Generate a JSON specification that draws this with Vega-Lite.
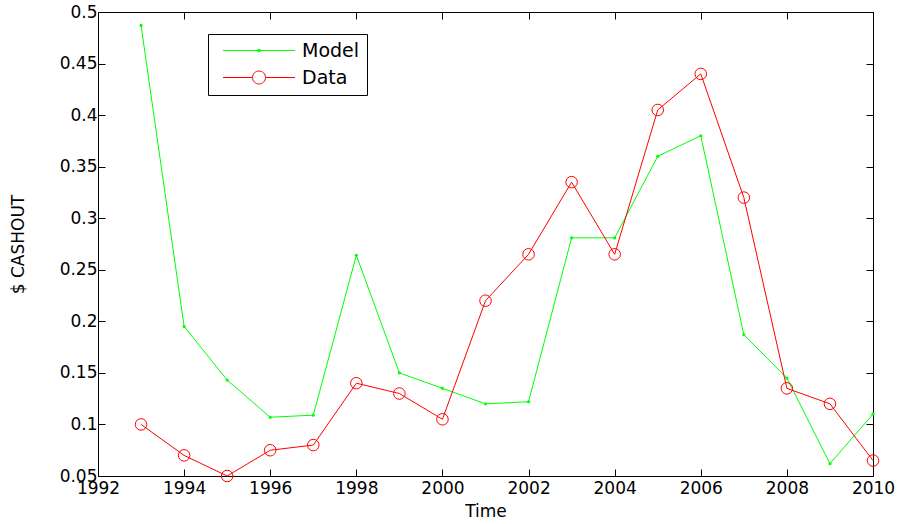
{
  "$schema": "https://vega.github.io/schema/vega-lite/v6.json",
  "width": 775,
  "height": 464,
  "autosize": "none",
  "padding": {"left": 98, "top": 12, "right": 30, "bottom": 48},
  "background": "white",
  "config": {
    "view": {"stroke": null},
    "font": "DejaVu Sans",
    "axis": {
      "domainColor": "black",
      "domainWidth": 1,
      "tickColor": "black",
      "tickWidth": 1,
      "tickSize": -7,
      "grid": false,
      "labelFlush": false,
      "labelOverlap": false,
      "labelFont": "DejaVu Sans",
      "labelFontSize": 17,
      "labelColor": "black",
      "titleFont": "DejaVu Sans",
      "titleFontSize": 17,
      "titleFontWeight": "normal",
      "titleColor": "black"
    }
  },
  "data": {
    "values": [
      {"year": 1993, "series": "Model", "value": 0.487},
      {"year": 1994, "series": "Model", "value": 0.195},
      {"year": 1995, "series": "Model", "value": 0.143},
      {"year": 1996, "series": "Model", "value": 0.107},
      {"year": 1997, "series": "Model", "value": 0.109},
      {"year": 1998, "series": "Model", "value": 0.264},
      {"year": 1999, "series": "Model", "value": 0.150},
      {"year": 2000, "series": "Model", "value": 0.135},
      {"year": 2001, "series": "Model", "value": 0.120},
      {"year": 2002, "series": "Model", "value": 0.122},
      {"year": 2003, "series": "Model", "value": 0.281},
      {"year": 2004, "series": "Model", "value": 0.281},
      {"year": 2005, "series": "Model", "value": 0.360},
      {"year": 2006, "series": "Model", "value": 0.380},
      {"year": 2007, "series": "Model", "value": 0.187},
      {"year": 2008, "series": "Model", "value": 0.145},
      {"year": 2009, "series": "Model", "value": 0.062},
      {"year": 2010, "series": "Model", "value": 0.110},
      {"year": 1993, "series": "Data", "value": 0.100},
      {"year": 1994, "series": "Data", "value": 0.070},
      {"year": 1995, "series": "Data", "value": 0.050},
      {"year": 1996, "series": "Data", "value": 0.075},
      {"year": 1997, "series": "Data", "value": 0.080},
      {"year": 1998, "series": "Data", "value": 0.140},
      {"year": 1999, "series": "Data", "value": 0.130},
      {"year": 2000, "series": "Data", "value": 0.105},
      {"year": 2001, "series": "Data", "value": 0.220},
      {"year": 2002, "series": "Data", "value": 0.265},
      {"year": 2003, "series": "Data", "value": 0.335},
      {"year": 2004, "series": "Data", "value": 0.265},
      {"year": 2005, "series": "Data", "value": 0.405},
      {"year": 2006, "series": "Data", "value": 0.440},
      {"year": 2007, "series": "Data", "value": 0.320},
      {"year": 2008, "series": "Data", "value": 0.135},
      {"year": 2009, "series": "Data", "value": 0.120},
      {"year": 2010, "series": "Data", "value": 0.065}
    ]
  },
  "resolve": {"axis": {"x": "independent", "y": "independent"}},
  "layer": [
    {
      "transform": [{"filter": "datum.series === 'Model'"}],
      "mark": {"type": "line", "color": "#00ff00", "strokeWidth": 1},
      "encoding": {
        "x": {"field": "year", "type": "quantitative", "scale": {"domain": [1992, 2010], "nice": false, "zero": false},
          "axis": {"orient": "bottom", "title": "Time", "values": [1992,1994,1996,1998,2000,2002,2004,2006,2008,2010], "format": "d", "labelPadding": 11, "titlePadding": 7}},
        "y": {"field": "value", "type": "quantitative", "scale": {"domain": [0.05, 0.5], "nice": false, "zero": false},
          "axis": {"orient": "left", "title": "$ CASHOUT", "values": [0.05,0.1,0.15,0.2,0.25,0.3,0.35,0.4,0.45,0.5], "format": ".2~f", "labelPadding": 8, "titlePadding": 32}}
      }
    },
    {
      "transform": [{"filter": "datum.series === 'Model'"}],
      "mark": {"type": "point", "shape": "circle", "filled": true, "color": "#00ff00", "size": 10, "opacity": 1},
      "encoding": {
        "x": {"field": "year", "type": "quantitative", "axis": null},
        "y": {"field": "value", "type": "quantitative", "axis": null}
      }
    },
    {
      "transform": [{"filter": "datum.series === 'Data'"}],
      "mark": {"type": "line", "color": "#ff0000", "strokeWidth": 1},
      "encoding": {
        "x": {"field": "year", "type": "quantitative", "axis": null},
        "y": {"field": "value", "type": "quantitative", "axis": null}
      }
    },
    {
      "transform": [{"filter": "datum.series === 'Data'"}],
      "mark": {"type": "point", "shape": "circle", "filled": false, "color": "#ff0000", "strokeWidth": 1, "size": 133, "opacity": 1},
      "encoding": {
        "x": {"field": "year", "type": "quantitative", "axis": null},
        "y": {"field": "value", "type": "quantitative", "axis": null}
      }
    },
    {
      "transform": [{"filter": "datum.year < 0"}],
      "mark": {"type": "point", "filled": false, "strokeWidth": 1, "opacity": 1},
      "encoding": {
        "x": {"field": "year", "type": "quantitative",
          "axis": {"orient": "top", "title": null, "labels": false, "values": [1992,1994,1996,1998,2000,2002,2004,2006,2008,2010]}},
        "y": {"field": "value", "type": "quantitative",
          "axis": {"orient": "right", "title": null, "labels": false, "values": [0.05,0.1,0.15,0.2,0.25,0.3,0.35,0.4,0.45,0.5]}},
        "color": {"field": "series", "type": "nominal",
          "scale": {"domain": ["Model", "Data"], "range": ["#00ff00", "#ff0000"]},
          "legend": {
            "orient": "none", "legendX": 110, "legendY": 22, "title": null,
            "padding": 7, "strokeColor": "black", "fillColor": "white",
            "symbolSize": 256, "symbolStrokeWidth": 1, "symbolOffset": 34.5,
            "labelOffset": 33.5, "labelFontSize": 19, "labelFont": "DejaVu Sans", "labelColor": "black",
            "rowPadding": 7
          }},
        "shape": {"field": "series", "type": "nominal",
          "scale": {"domain": ["Model", "Data"], "range": [
            "M-4.5,0H4.5M-0.15,-0.15H0.15V0.15H-0.15Z",
            "M-4.5,0H-0.8125M0.8125,0H4.5M-0.8125,0A0.8125,0.8125 0 1,1 0.8125,0A0.8125,0.8125 0 1,1 -0.8125,0Z"
          ]}}
      }
    }
  ]
}
